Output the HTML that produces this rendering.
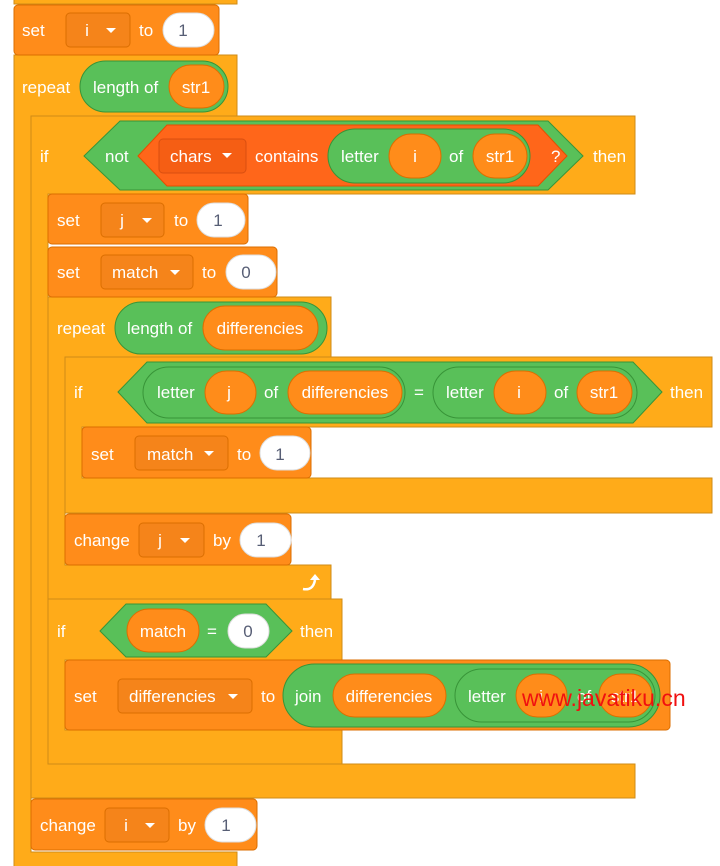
<!DOCTYPE html>
<html><head><meta charset="utf-8"><style>
html,body{margin:0;padding:0;background:#fff;width:720px;height:866px;overflow:hidden}
svg text{font-family:"Liberation Sans",Arial,sans-serif;font-size:17px;fill:#fff}
.c{fill:#FFAB19;stroke:#CF8B17;stroke-width:1}
.v{fill:#FF8C1A;stroke:#DB6E00;stroke-width:1}
.dd{fill:#F5841A;stroke:#DB6E00;stroke-width:1}
.g{fill:#59C059;stroke:#389438;stroke-width:1}
.r{fill:#FF661A;stroke:#E64D00;stroke-width:1}
.o{fill:#FF8C1A;stroke:#DB6E00;stroke-width:1}
.n{fill:#fff;stroke:#ddd;stroke-width:1}
.nt{fill:#575E75 !important}
.m{text-anchor:middle}
</style></head><body>
<svg width="720" height="866" viewBox="0 0 720 866" xmlns="http://www.w3.org/2000/svg">
<path class="c" d="M14,-10 H237 V4 H14 Z"/>
<path class="c" d="M14,55 H237 V116 H31 V852 H237 V880 H14 Z"/>
<path class="c" d="M31,116 H635 V194 H48 V764 H635 V798 H31 Z"/>
<path class="c" d="M48,297 H331 V357 H65 V565 H331 V599 H48 Z"/>
<path class="c" d="M65,357 H712 V427 H82 V478 H712 V513 H65 Z"/>
<path class="c" d="M48,599 H342 V660 H65 V730 H342 V764 H48 Z"/>

<rect class="v" x="14" y="5" width="205" height="50" rx="4"/>
<text x="22" y="36">set</text>
<rect class="dd" x="66" y="13" width="64" height="34" rx="4"/>
<text x="87" y="36" class="m">i</text><path d="M106,28 h10 l-5,5z" fill="#fff"/>
<text x="139" y="36">to</text>
<rect class="n" x="163" y="13" width="51" height="34" rx="17"/><text x="183" y="36" class="m nt">1</text>

<text x="22" y="93">repeat</text>
<rect class="g" x="80" y="61" width="148" height="51" rx="25.5"/>
<text x="93" y="93">length of</text>
<rect class="o" x="169" y="65" width="55" height="43" rx="21.5"/>
<text x="196" y="93" class="m">str1</text>

<text x="40" y="162">if</text>
<polygon class="g" points="84,156 120,121 548,121 583,156 548,190 120,190"/>
<text x="105" y="162">not</text>
<polygon class="r" points="138,156 167,125 538,125 567,156 538,186 167,186"/>
<rect class="dd" x="159" y="139" width="87" height="34" rx="4" style="fill:#F55E14;stroke:#D94F10"/>
<text x="170" y="162">chars</text><path d="M222,153 h10 l-5,5z" fill="#fff"/>
<text x="255" y="162">contains</text>
<rect class="g" x="328" y="129" width="202" height="54" rx="27"/>
<text x="341" y="162">letter</text>
<rect class="o" x="389" y="134" width="52" height="44" rx="22"/><text x="415" y="162" class="m">i</text>
<text x="449" y="162">of</text>
<rect class="o" x="473" y="134" width="54" height="44" rx="22"/><text x="500" y="162" class="m">str1</text>
<text x="551" y="162">?</text>
<text x="593" y="162">then</text>

<rect class="v" x="48" y="194" width="200" height="50" rx="4"/>
<text x="57" y="226">set</text>
<rect class="dd" x="101" y="203" width="63" height="34" rx="4"/>
<text x="122" y="226" class="m">j</text><path d="M142,218 h10 l-5,5z" fill="#fff"/>
<text x="174" y="226">to</text>
<rect class="n" x="197" y="203" width="48" height="34" rx="17"/><text x="218" y="226" class="m nt">1</text>

<rect class="v" x="48" y="247" width="229" height="50" rx="4"/>
<text x="57" y="278">set</text>
<rect class="dd" x="101" y="255" width="92" height="34" rx="4"/>
<text x="112" y="278">match</text><path d="M170,270 h10 l-5,5z" fill="#fff"/>
<text x="202" y="278">to</text>
<rect class="n" x="226" y="255" width="50" height="34" rx="17"/><text x="246" y="278" class="nt m">0</text>

<text x="57" y="334">repeat</text>
<rect class="g" x="115" y="302" width="212" height="52" rx="26"/>
<text x="127" y="334">length of</text>
<rect class="o" x="203" y="306" width="115" height="44" rx="22"/>
<text x="260" y="334" class="m">differencies</text>

<text x="74" y="398">if</text>
<polygon class="g" points="118,392 147,362 633,362 662,392 633,423 147,423"/>
<rect class="g" x="143" y="367" width="262" height="51" rx="25.5"/>
<text x="157" y="398">letter</text>
<rect class="o" x="205" y="371" width="51" height="43" rx="21.5"/><text x="229" y="398" class="m">j</text>
<text x="264" y="398">of</text>
<rect class="o" x="288" y="371" width="114" height="43" rx="21.5"/><text x="345" y="398" class="m">differencies</text>
<text x="414" y="398">=</text>
<rect class="g" x="433" y="367" width="204" height="51" rx="25.5"/>
<text x="446" y="398">letter</text>
<rect class="o" x="494" y="371" width="52" height="43" rx="21.5"/><text x="519" y="398" class="m">i</text>
<text x="554" y="398">of</text>
<rect class="o" x="577" y="371" width="55" height="43" rx="21.5"/><text x="604" y="398" class="m">str1</text>
<text x="670" y="398">then</text>

<rect class="v" x="82" y="427" width="229" height="51" rx="4"/>
<text x="91" y="460">set</text>
<rect class="dd" x="135" y="436" width="93" height="34" rx="4"/>
<text x="147" y="460">match</text><path d="M204,451 h10 l-5,5z" fill="#fff"/>
<text x="237" y="460">to</text>
<rect class="n" x="260" y="436" width="50" height="34" rx="17"/><text x="280" y="460" class="nt m">1</text>

<rect class="v" x="65" y="514" width="226" height="51" rx="4"/>
<text x="74" y="546">change</text>
<rect class="dd" x="139" y="523" width="65" height="34" rx="4"/>
<text x="160" y="546" class="m">j</text><path d="M180,538 h10 l-5,5z" fill="#fff"/>
<text x="213" y="546">by</text>
<rect class="n" x="240" y="523" width="51" height="34" rx="17"/><text x="261" y="546" class="nt m">1</text>
<path d="M303,589 q10,2 12,-9" stroke="#fff" stroke-width="2.5" fill="none"/><path d="M310,580 l5,-6 l5,6z" fill="#fff"/>

<text x="57" y="637">if</text>
<polygon class="g" points="100,631 126,604 266,604 292,631 266,657 126,657"/>
<rect class="o" x="127" y="609" width="72" height="43" rx="21.5"/><text x="163" y="637" class="m">match</text>
<text x="207" y="637">=</text>
<rect class="n" x="228" y="614" width="41" height="34" rx="17"/><text x="248" y="637" class="nt m">0</text>
<text x="300" y="637">then</text>

<rect class="v" x="65" y="660" width="605" height="70" rx="4"/>
<text x="74" y="702">set</text>
<rect class="dd" x="118" y="679" width="134" height="34" rx="4"/>
<text x="129" y="702">differencies</text><path d="M228,694 h10 l-5,5z" fill="#fff"/>
<text x="261" y="702">to</text>
<rect class="g" x="283" y="664" width="377" height="63" rx="31.5"/>
<text x="295" y="702">join</text>
<rect class="o" x="333" y="674" width="113" height="43" rx="21.5"/><text x="389" y="702" class="m">differencies</text>
<rect class="g" x="455" y="669" width="200" height="53" rx="26.5"/>
<text x="468" y="702">letter</text>
<rect class="o" x="516" y="674" width="51" height="43" rx="21.5"/><text x="541" y="702" class="m">i</text>
<text x="577" y="702">of</text>
<rect class="o" x="599" y="674" width="53" height="43" rx="21.5"/><text x="625" y="702" class="m">str1</text>
<text x="522" y="706" style="fill:#F01010;font-size:23px">www.javatiku.cn</text>

<rect class="v" x="31" y="799" width="226" height="51" rx="4"/>
<text x="40" y="831">change</text>
<rect class="dd" x="105" y="808" width="64" height="34" rx="4"/>
<text x="126" y="831" class="m">i</text><path d="M145,823 h10 l-5,5z" fill="#fff"/>
<text x="178" y="831">by</text>
<rect class="n" x="205" y="808" width="51" height="34" rx="17"/><text x="226" y="831" class="nt m">1</text>
</svg>
</body></html>
